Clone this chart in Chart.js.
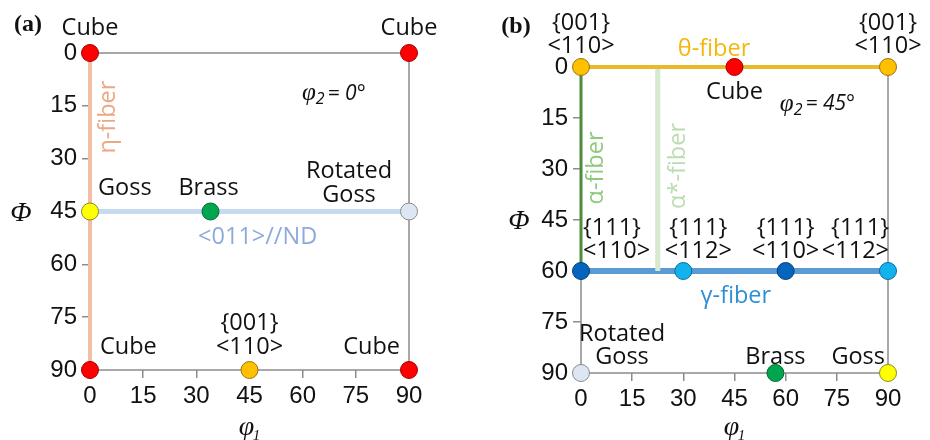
<!DOCTYPE html>
<html>
<head>
<meta charset="utf-8">
<script src="https://cdn.jsdelivr.net/npm/chart.js@4.4.1/dist/chart.umd.min.js"></script>
<style>
  html, body { margin: 0; padding: 0; background: #fff; }
  #wrap { position: relative; width: 930px; height: 440px; }
  .panel { position: absolute; top: 0; width: 465px; height: 440px; }
</style>
</head>
<body>
<div id="wrap">
  <div class="panel" style="left:0"><canvas id="chartA" width="465" height="440"></canvas></div>
  <div class="panel" style="left:465px"><canvas id="chartB" width="465" height="440"></canvas></div>
</div>
<script>
// shared axis ticks (degrees)
const tickValues = [0, 15, 30, 45, 60, 75, 90];

// panel (a): phi2 = 0 section
const aNames = ["Cube", "Cube", "Cube", "Cube", "Goss", "Brass", "Rotated\nGoss", "{001}\n<110>"];
const aPhi1 = [0, 90, 0, 90, 0, 34, 90, 45];
const aPHI = [0, 0, 90, 90, 45, 45, 45, 90];
const aFibers = ["η-fiber", "<011>//ND"];
const aFiberPhi1 = [[0, 0], [0, 90]];
const aFiberPHI = [[0, 90], [45, 45]];

// panel (b): phi2 = 45 section
const bNames = ["{001}\n<110>", "{001}\n<110>", "Cube", "{111}\n<110>", "{111}\n<112>",
  "{111}\n<110>", "{111}\n<112>", "Rotated\nGoss", "Brass", "Goss"];
const bPhi1 = [0, 90, 45, 0, 30, 60, 90, 0, 57, 90];
const bPHI = [0, 0, 0, 60, 60, 60, 60, 90, 90, 90];
const bFibers = ["θ-fiber", "α-fiber", "α*-fiber", "γ-fiber"];
const bFiberPhi1 = [[0, 90], [0, 0], [22.5, 22.5], [0, 90]];
const bFiberPHI = [[0, 0], [0, 60], [0, 60], [60, 60]];

// ---- styling ----
const markerStyle = {
  "Cube": ["#ff0000", "#a40000"],
  "Goss": ["#ffff00", "#8a8a30"],
  "Brass": ["#00a64f", "#006a30"],
  "Rotated\nGoss": ["#dde7f3", "#8a8a8a"],
  "{001}\n<110>": ["#ffc000", "#9a7410"],
  "{111}\n<110>": ["#0565be", "#053f78"],
  "{111}\n<112>": ["#12b2ef", "#0a6c98"],
};
const fiberStyle = {
  "η-fiber": { line: "#f2bfa5", width: 4, text: "#eca883" },
  "<011>//ND": { line: "#c6dbf1", width: 5, text: "#8eaadb" },
  "θ-fiber": { line: "#e9b92c", width: 4, text: "#f2b80c" },
  "α-fiber": { line: "#4f8a3d", width: 3, text: "#8fca7c" },
  "α*-fiber": { line: "#d4e9ce", width: 5, text: "#bcdcb2" },
  "γ-fiber": { line: "#5b9bd5", width: 6, text: "#2e8ed6" },
};

const labelFont = "23.5px 'Open Sans'";
const tickFont = { family: "'Liberation Sans', Arial", size: 24 };

// label placement relative to marker: [dx, dy(last line), align]
const aPlace = [[0, -25, "center"], [0, -25, "center"], [10, -23, "left"], [-9, -23, "right"],
  [8, -23, "left"], [-2, -23, "center"], [-60, -16, "center"], [0, -23, "center"]];
const bPlace = [[0, -21, "center"], [0, -21, "center"], [0, 25, "center"], [2, -20, "left"],
  [15, -20, "center"], [0, -20, "center"], [1, -20, "right"], [41, -16, "center"],
  [0, -16, "center"], [-3, -16, "right"]];
// fiber name anchors in (phi1, PHI) and rotation
const aFiberText = [[5.1, 18.2, -90], [47.3, 52.2, 0]];
const bFiberText = [[39, -5.3, 0], [4.4, 29.7, -90], [28.4, 29.1, -90], [45.4, 67.4, 0]];

function drawPhi2(ctx, x, y, deg) {
  ctx.textAlign = "left";
  ctx.textBaseline = "middle";
  ctx.fillStyle = "#111";
  ctx.font = "italic 25px 'Liberation Serif'";
  ctx.fillText("φ", x, y);
  let w = ctx.measureText("φ").width;
  ctx.font = "italic 16px 'Open Sans'";
  ctx.fillText("2", x + w, y + 6);
  w += ctx.measureText("2").width + 3;
  ctx.font = "italic 21px 'Open Sans'";
  ctx.fillText("= " + deg + "°", x + w, y);
}

function makePanel(id, p) {
  const textPlugin = {
    id: "texts" + id,
    beforeDatasetsDraw(chart) {
      const { ctx, chartArea: a } = chart;
      ctx.save();
      ctx.strokeStyle = "#8c8c8c";
      ctx.lineWidth = 1.5;
      ctx.strokeRect(a.left, a.top, a.right - a.left, a.bottom - a.top);
      ctx.restore();
    },
    afterDatasetsDraw(chart) {
      const { ctx, chartArea: a } = chart;
      const xs = chart.scales.x, ys = chart.scales.y;
      ctx.save();
      // marker labels
      ctx.font = labelFont;
      ctx.fillStyle = "#111";
      ctx.textBaseline = "middle";
      p.names.forEach((n, i) => {
        const [dx, dy, al] = p.place[i];
        const px = xs.getPixelForValue(p.phi1[i]) + dx;
        const py = ys.getPixelForValue(p.PHI[i]) + dy;
        const lines = n.split("\n");
        ctx.textAlign = al;
        lines.forEach((t, k) => ctx.fillText(t, px, py - (lines.length - 1 - k) * p.lh));
      });
      // fiber names
      p.fibers.forEach((n, i) => {
        const [fx, fy, rot] = p.fiberText[i];
        ctx.save();
        ctx.translate(xs.getPixelForValue(fx), ys.getPixelForValue(fy));
        ctx.rotate(rot * Math.PI / 180);
        ctx.fillStyle = fiberStyle[n].text;
        ctx.textAlign = "center";
        ctx.fillText(n, 0, 0);
        ctx.restore();
      });
      // phi2 note
      drawPhi2(ctx, xs.getPixelForValue(p.note[0]), ys.getPixelForValue(p.note[1]), p.note[2]);
      // axis titles
      ctx.fillStyle = "#111";
      ctx.textAlign = "center";
      ctx.font = "italic 28px 'Liberation Serif'";
      ctx.fillText("Φ", a.left - p.phiGap, (a.top + a.bottom) / 2 + 2);
      const cx = (a.left + a.right) / 2;
      ctx.font = "italic 28px 'Liberation Serif'";
      ctx.fillText("φ", cx - 3, 428);
      ctx.font = "italic 15px 'Liberation Serif'";
      ctx.fillText("1", cx + 7, 436);
      // panel letter
      ctx.font = "bold 24px 'Liberation Serif'";
      ctx.fillText(p.letter, p.letterPos[0], p.letterPos[1]);
      ctx.restore();
    },
  };

  const axis = (extra) => Object.assign({
    type: "linear",
    min: 0,
    max: 90,
    afterBuildTicks: (s) => { s.ticks = tickValues.map((v) => ({ value: v })); },
    ticks: { font: tickFont, color: "#111", padding: 4, maxRotation: 0, autoSkip: false },
    grid: { drawOnChartArea: false, color: "#8c8c8c", lineWidth: 1.5, tickLength: 8 },
    border: { display: false },
  }, extra);

  return new Chart(document.getElementById(id), {
    type: "scatter",
    data: {
      datasets: [
        {
          data: p.names.map((n, i) => ({ x: p.phi1[i], y: p.PHI[i] })),
          pointRadius: 8.5,
          pointBackgroundColor: p.names.map((n) => markerStyle[n][0]),
          pointBorderColor: p.names.map((n) => markerStyle[n][1]),
          pointBorderWidth: 1,
          clip: false,
        },
        ...p.fibers.map((n, i) => ({
          type: "line",
          data: [{ x: p.fphi1[i][0], y: p.fPHI[i][0] }, { x: p.fphi1[i][1], y: p.fPHI[i][1] }],
          borderColor: fiberStyle[n].line,
          borderWidth: fiberStyle[n].width,
          pointRadius: 0,
          showLine: true,
          clip: false,
        })),
      ],
    },
    options: {
      responsive: false,
      animation: false,
      layout: { padding: { left: 0, right: p.padRight, top: p.padTop, bottom: 0 } },
      plugins: { legend: { display: false }, tooltip: { enabled: false } },
      scales: {
        x: axis({ position: "bottom", afterFit: (s) => { s.height = p.xHeight; } }),
        y: axis({ position: "left", reverse: true, afterFit: (s) => { s.width = p.yWidth; },
          ticks: { font: tickFont, color: "#111", padding: 5, maxRotation: 0, autoSkip: false } }),
      },
    },
    plugins: [textPlugin],
  });
}

makePanel("chartA", {
  names: aNames, phi1: aPhi1, PHI: aPHI, place: aPlace, lh: 24,
  fibers: aFibers, fphi1: aFiberPhi1, fPHI: aFiberPHI, fiberText: aFiberText,
  note: [59.8, 11.6, "0"], letter: "(a)", letterPos: [28, 25], phiGap: 69,
  padRight: 56, padTop: 53, xHeight: 70, yWidth: 90,
});
makePanel("chartB", {
  names: bNames, phi1: bPhi1, PHI: bPHI, place: bPlace, lh: 23,
  fibers: bFibers, fphi1: bFiberPhi1, fPHI: bFiberPHI, fiberText: bFiberText,
  note: [58.3, 10.9, "45"], letter: "(b)", letterPos: [51, 27], phiGap: 62,
  padRight: 42, padTop: 67, xHeight: 67, yWidth: 116,
});
</script>
</body>
</html>
